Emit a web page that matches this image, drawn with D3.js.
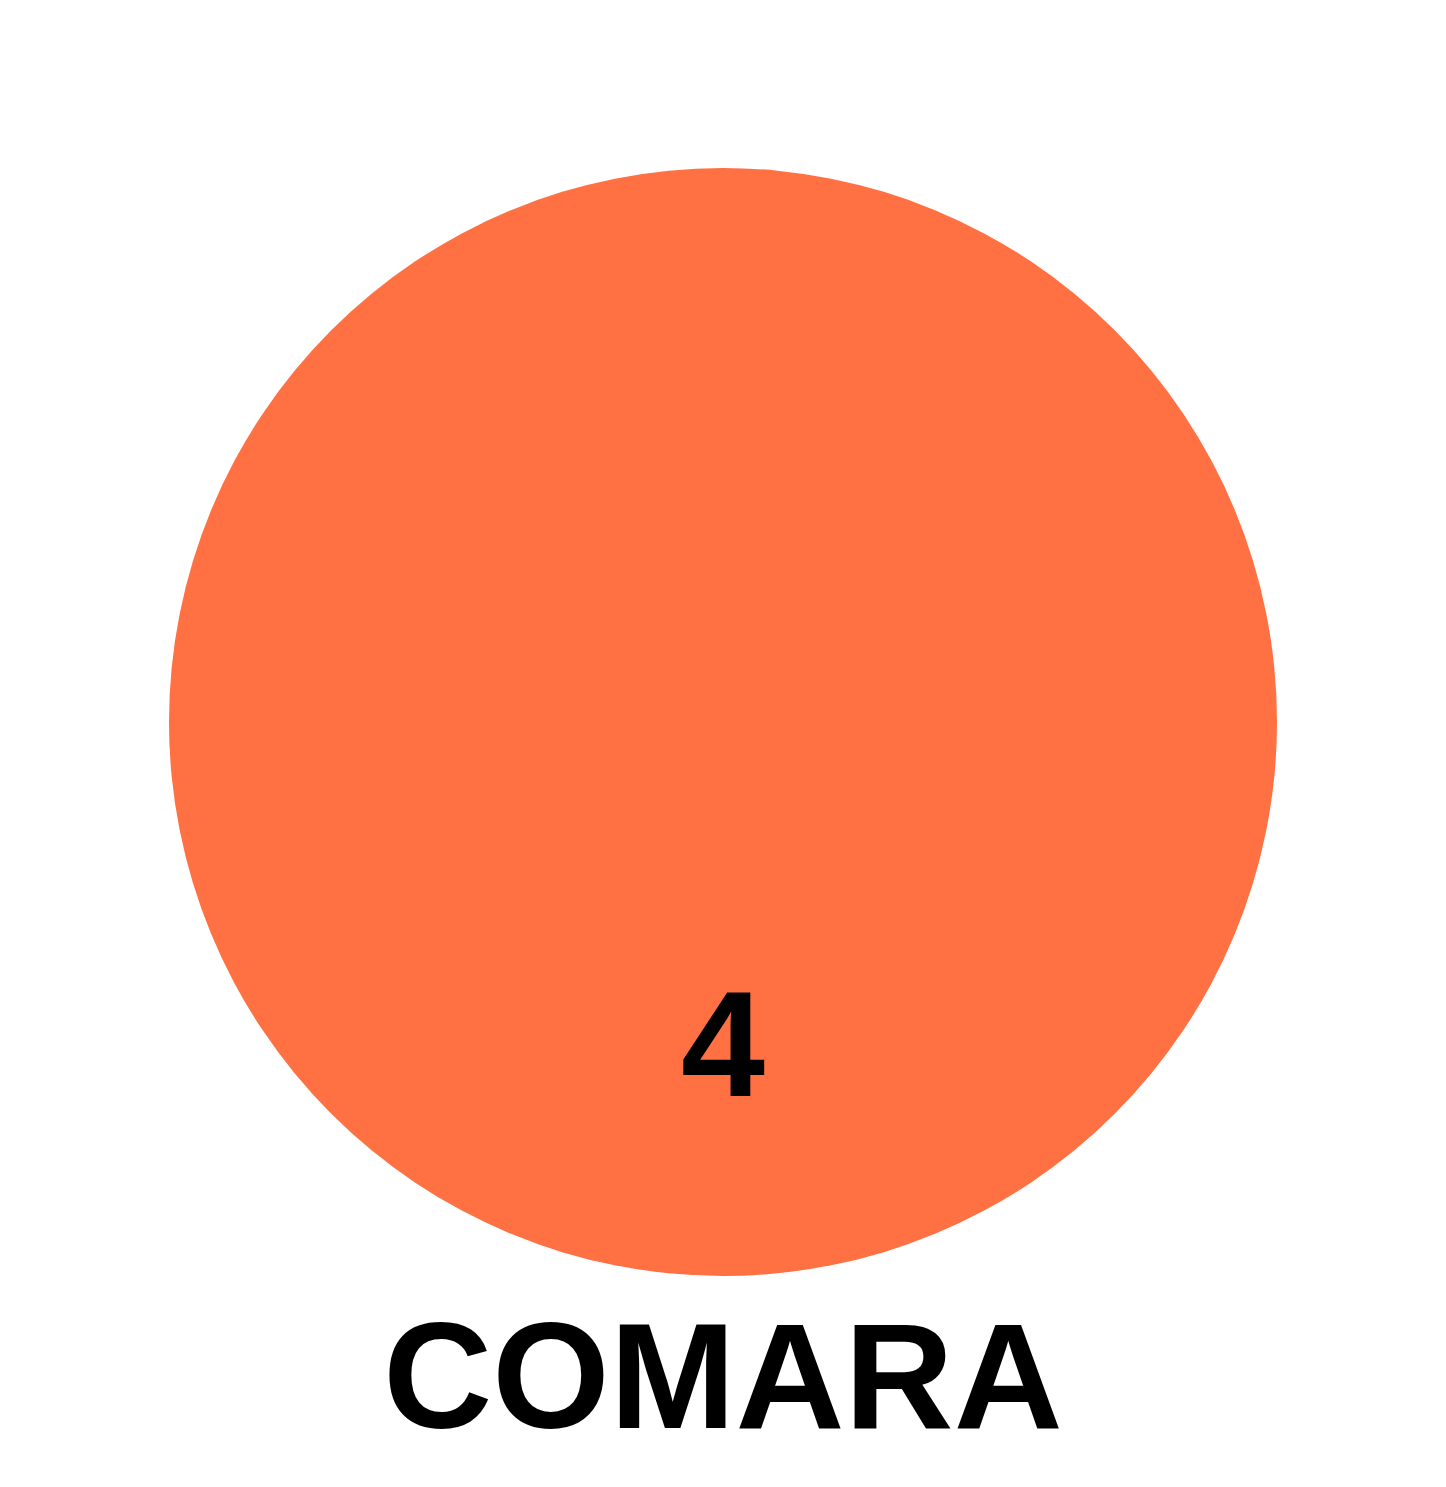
<!DOCTYPE html>
<html>
<head>
<meta charset="utf-8">
<script src="https://cdn.jsdelivr.net/npm/d3@7"></script>
<style>
html,body{margin:0;padding:0;background:#fff;}
svg{display:block;}
</style>
</head>
<body>
<script>
const categories = ["COMARA"];
const values = [4];
const colors = ["#FF7043"];

const W = 1446, H = 1487;
const svg = d3.select("body").append("svg").attr("width", W).attr("height", H);

const cx = 723, cy = 722;
const r = d3.scaleSqrt().domain([0, d3.max(values)]).range([0, 554]);

const g = svg.selectAll("g.node").data(categories.map((c, i) => ({name: c, value: values[i], color: colors[i]})))
  .enter().append("g").attr("class", "node").attr("transform", `translate(${cx},${cy})`);

g.append("circle").attr("r", d => r(d.value)).attr("fill", d => d.color);

g.append("text")
  .attr("text-anchor", "middle")
  .attr("y", d => r(d.value) * 0.675)
  .attr("font-family", "Liberation Sans, Arial, sans-serif")
  .attr("font-weight", "bold")
  .attr("font-size", 151)
  .attr("fill", "#000")
  .text(d => d.value);

g.append("text")
  .attr("text-anchor", "middle")
  .attr("y", d => r(d.value) + 152)
  .attr("font-family", "Liberation Sans, Arial, sans-serif")
  .attr("font-weight", "bold")
  .attr("font-size", 151)
  .attr("fill", "#000")
  .text(d => d.name);
</script>
</body>
</html>
